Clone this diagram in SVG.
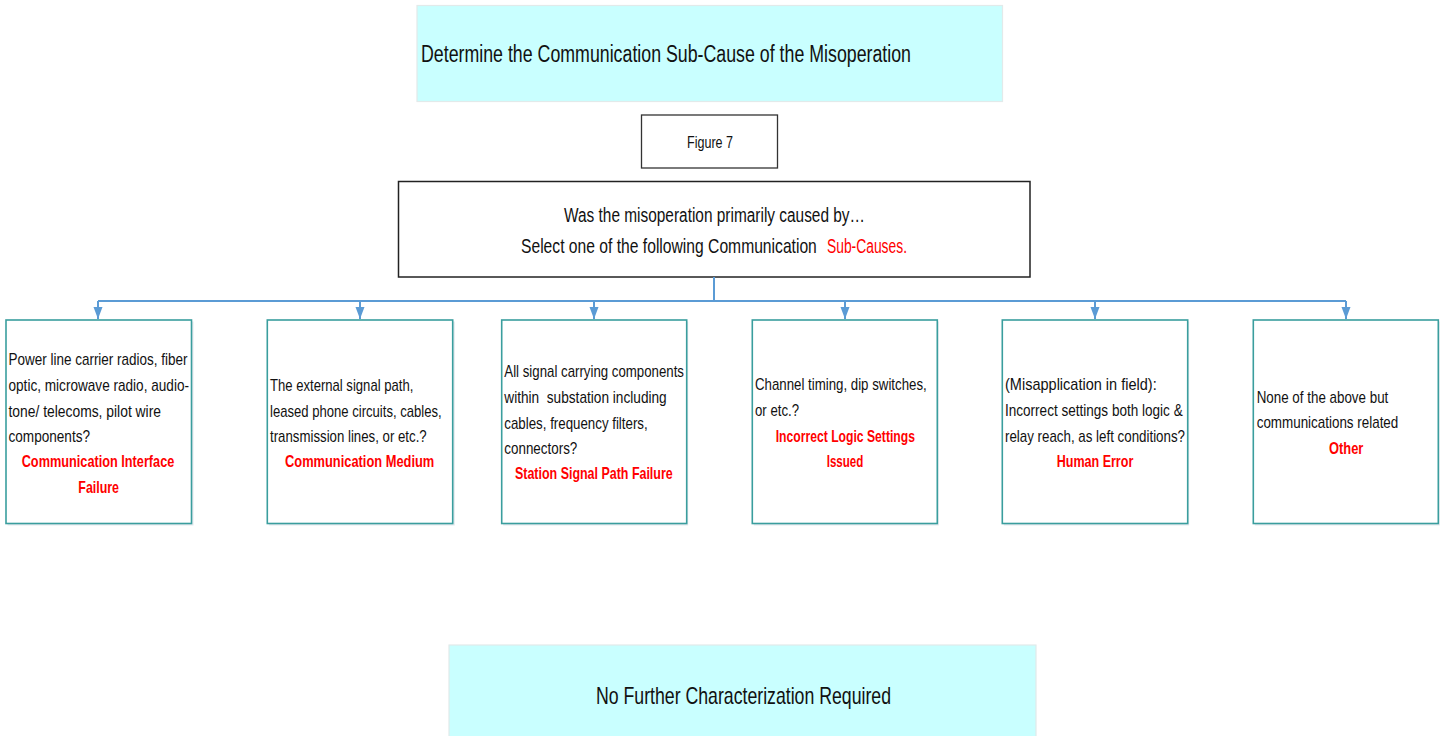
<svg xmlns="http://www.w3.org/2000/svg" width="1446" height="736" viewBox="0 0 1446 736">
<style>
  .t { font-family: "Liberation Sans", Arial, sans-serif; fill: #111; white-space: pre; }
  .body { font-size: 17px; }
  .red { font-size: 17px; font-weight: bold; fill: #FF0000; }
  .cyan { fill: #C9FFFF; stroke: #E2EAEA; stroke-width: 1.2; }
  .child { fill: #FFFFFF; stroke: #3A9E9E; stroke-width: 1.6; }
  .shadow { fill: #E4E9EE; }
  .conn { fill: none; stroke: #5B9BD5; stroke-width: 2; }
</style>
<defs>
  <marker id="arrow" markerUnits="userSpaceOnUse" markerWidth="13" markerHeight="10" refX="12" refY="5" orient="auto" viewBox="0 0 13 10">
    <path d="M0,0.5 L12,5 L0,9.5 Z" fill="#5B9BD5"/>
  </marker>
</defs>
<rect width="1446" height="736" fill="#FFFFFF"/>

<g id="title">
  <rect class="cyan" x="417" y="5.5" width="585.5" height="96"/>
  <text class="t" x="421" y="61.5" font-size="23" textLength="490" lengthAdjust="spacingAndGlyphs">Determine the Communication Sub-Cause of the Misoperation</text>
</g>

<g id="figure-label">
  <rect x="641.5" y="115" width="136" height="53" fill="#FFFFFF" stroke="#333" stroke-width="1.3"/>
  <text class="t" x="687" y="147.5" font-size="17" textLength="46" lengthAdjust="spacingAndGlyphs">Figure 7</text>
</g>

<g id="question">
  <rect x="398.5" y="181.5" width="631.5" height="95.5" fill="#FFFFFF" stroke="#222" stroke-width="1.5"/>
  <text class="t" x="564" y="221.5" font-size="20" textLength="301" lengthAdjust="spacingAndGlyphs">Was the misoperation primarily caused by…</text>
  <text class="t" transform="translate(521 253) scale(0.783 1)" x="0" y="0" font-size="20">Select one of the following Communication</text>
  <text class="t" x="827" y="253" font-size="20" style="fill:#FF0000" textLength="80" lengthAdjust="spacingAndGlyphs">Sub-Causes.</text>
</g>

<g id="connectors">
  <path class="conn" d="M714,277 V301"/>
  <path class="conn" d="M98,301 H1346"/>
  <path class="conn" d="M98,301 V319" marker-end="url(#arrow)"/>
  <path class="conn" d="M360,301 V319" marker-end="url(#arrow)"/>
  <path class="conn" d="M594,301 V319" marker-end="url(#arrow)"/>
  <path class="conn" d="M845,301 V319" marker-end="url(#arrow)"/>
  <path class="conn" d="M1095,301 V319" marker-end="url(#arrow)"/>
  <path class="conn" d="M1346,301 V319" marker-end="url(#arrow)"/>
</g>

<g id="comm-interface">
  <rect class="shadow" x="7.5" y="321.5" width="186" height="204"/>
  <rect class="child" x="6" y="320" width="185.5" height="203.5"/>
  <text class="t body" x="8.5" y="365" textLength="179" lengthAdjust="spacingAndGlyphs">Power line carrier radios, fiber</text>
  <text class="t body" x="8.5" y="390.7" textLength="180.5" lengthAdjust="spacingAndGlyphs">optic, microwave radio, audio-</text>
  <text class="t body" x="8.5" y="416.5" textLength="152.5" lengthAdjust="spacingAndGlyphs">tone/ telecoms, pilot wire</text>
  <text class="t body" x="8.5" y="441.7" textLength="81.5" lengthAdjust="spacingAndGlyphs">components?</text>
  <text class="t red" x="21.7" y="466.7" textLength="152.6" lengthAdjust="spacingAndGlyphs">Communication Interface</text>
  <text class="t red" x="78.3" y="492.7" textLength="40.7" lengthAdjust="spacingAndGlyphs">Failure</text>
</g>

<g id="comm-medium">
  <rect class="shadow" x="268.8" y="321.5" width="186" height="204"/>
  <rect class="child" x="267.3" y="320" width="185.4" height="203.5"/>
  <text class="t body" x="270" y="390.7" textLength="143.3" lengthAdjust="spacingAndGlyphs">The external signal path,</text>
  <text class="t body" x="270" y="416.7" textLength="171.7" lengthAdjust="spacingAndGlyphs">leased phone circuits, cables,</text>
  <text class="t body" x="270" y="441.7" textLength="156.7" lengthAdjust="spacingAndGlyphs">transmission lines, or etc.?</text>
  <text class="t red" x="285" y="466.7" textLength="149.3" lengthAdjust="spacingAndGlyphs">Communication Medium</text>
</g>

<g id="station-signal-path">
  <rect class="shadow" x="503.2" y="321.5" width="185" height="204"/>
  <rect class="child" x="501.7" y="320" width="185" height="203.5"/>
  <text class="t body" x="504.3" y="377.3" textLength="179.7" lengthAdjust="spacingAndGlyphs">All signal carrying components</text>
  <text class="t body" x="504.3" y="403.3" textLength="162.4" lengthAdjust="spacingAndGlyphs">within  substation including</text>
  <text class="t body" x="504.3" y="429" textLength="143.4" lengthAdjust="spacingAndGlyphs">cables, frequency filters,</text>
  <text class="t body" x="504.3" y="454" textLength="73" lengthAdjust="spacingAndGlyphs">connectors?</text>
  <text class="t red" x="515" y="479.3" textLength="157.7" lengthAdjust="spacingAndGlyphs">Station Signal Path Failure</text>
</g>

<g id="logic-settings">
  <rect class="shadow" x="753.8" y="321.5" width="185" height="204"/>
  <rect class="child" x="752.3" y="320" width="185" height="203.5"/>
  <text class="t body" x="755" y="390" textLength="171.7" lengthAdjust="spacingAndGlyphs">Channel timing, dip switches,</text>
  <text class="t body" x="755" y="415.7" textLength="44" lengthAdjust="spacingAndGlyphs">or etc.?</text>
  <text class="t red" x="775.7" y="441.7" textLength="139.3" lengthAdjust="spacingAndGlyphs">Incorrect Logic Settings</text>
  <text class="t red" x="826.7" y="466.7" textLength="36.6" lengthAdjust="spacingAndGlyphs">Issued</text>
</g>

<g id="human-error">
  <rect class="shadow" x="1003.8" y="321.5" width="185.4" height="204"/>
  <rect class="child" x="1002.3" y="320" width="185.4" height="203.5"/>
  <text class="t body" x="1005" y="390" textLength="151.7" lengthAdjust="spacingAndGlyphs">(Misapplication in field):</text>
  <text class="t body" x="1005" y="415.7" textLength="177.7" lengthAdjust="spacingAndGlyphs">Incorrect settings both logic &amp;</text>
  <text class="t body" x="1005" y="441.7" textLength="180" lengthAdjust="spacingAndGlyphs">relay reach, as left conditions?</text>
  <text class="t red" x="1056.7" y="466.7" textLength="76.6" lengthAdjust="spacingAndGlyphs">Human Error</text>
</g>

<g id="other">
  <rect class="shadow" x="1254.8" y="321.5" width="185" height="204"/>
  <rect class="child" x="1253.3" y="320" width="185" height="203.5"/>
  <text class="t body" x="1256.7" y="402.7" textLength="131.6" lengthAdjust="spacingAndGlyphs">None of the above but</text>
  <text class="t body" x="1256.7" y="428.3" textLength="141.6" lengthAdjust="spacingAndGlyphs">communications related</text>
  <text class="t red" x="1329" y="454.3" textLength="34.3" lengthAdjust="spacingAndGlyphs">Other</text>
</g>

<g id="no-further">
  <rect class="cyan" x="449" y="645" width="587" height="95"/>
  <text class="t" x="596" y="704" font-size="24" textLength="295" lengthAdjust="spacingAndGlyphs">No Further Characterization Required</text>
</g>
</svg>
